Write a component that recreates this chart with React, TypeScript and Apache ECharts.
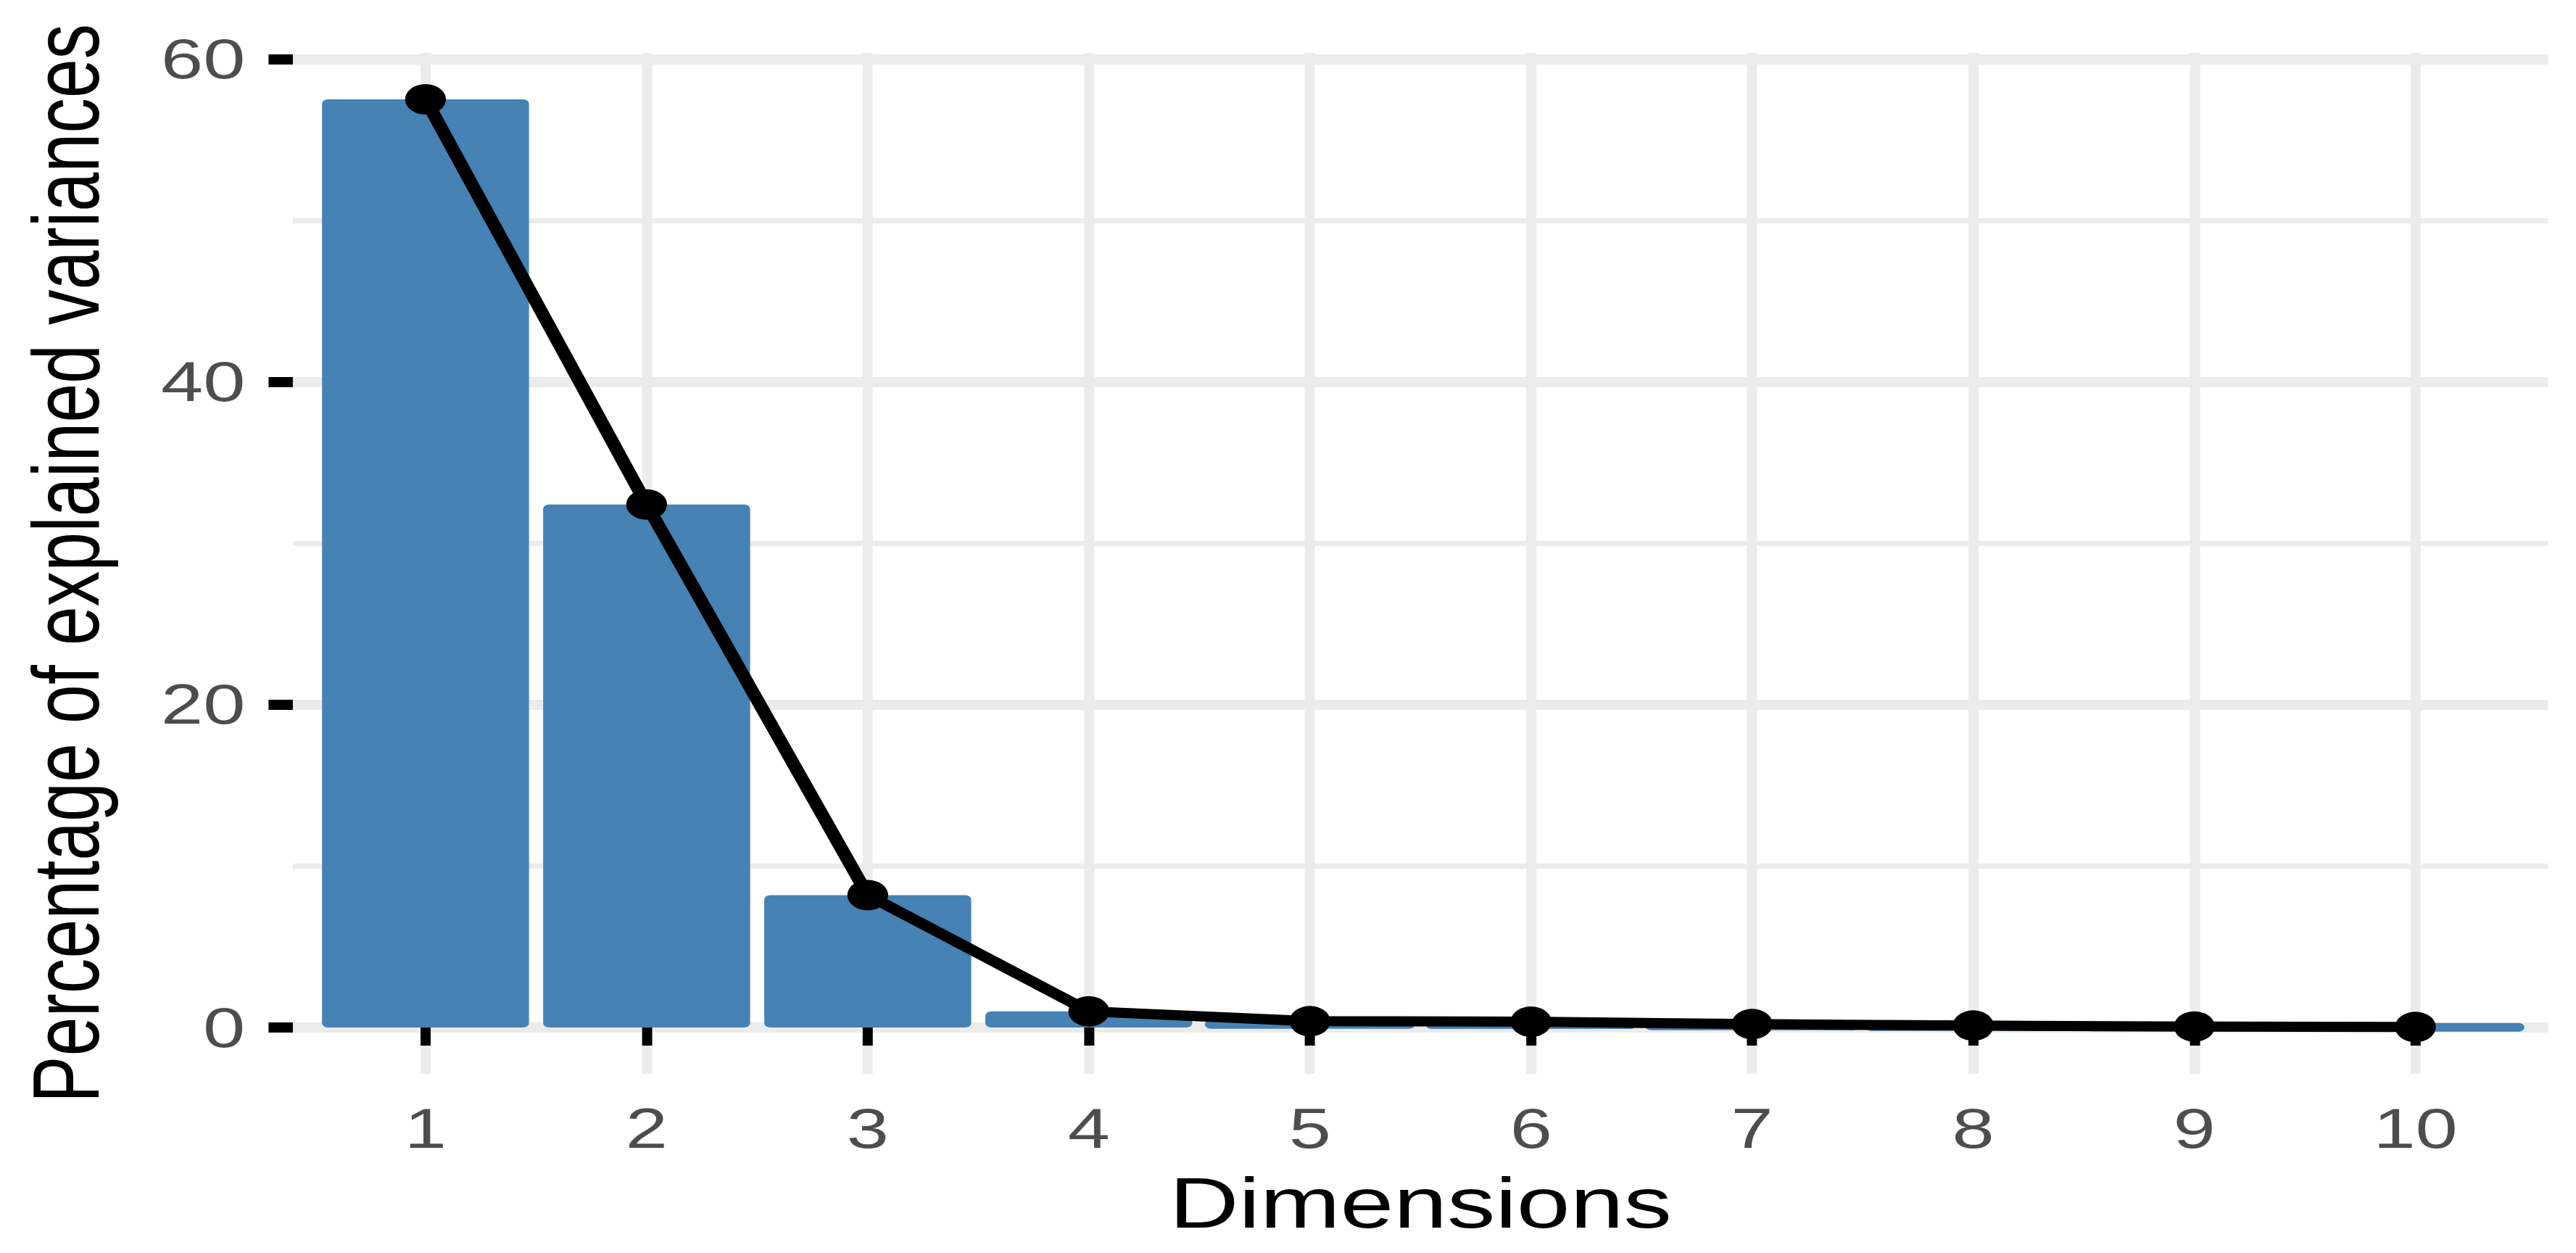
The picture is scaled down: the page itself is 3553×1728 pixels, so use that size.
import React, { useEffect, useRef } from "react";
import * as echarts from "echarts";

const dimensions = [1, 2, 3, 4, 5, 6, 7, 8, 9, 10];
const variances = [57.5, 32.4, 8.2, 1.0, 0.39, 0.36, 0.21, 0.12, 0.06, 0.03];
const yTicks = [0, 20, 40, 60];
const yMinorTicks = [10, 30, 50];
const xTitle = "Dimensions";
const yTitle = "Percentage of explained variances";

const STRETCH = 1.3402;
const FULL_W = 3553;
const FULL_H = 1728;
const INNER_W = Math.round(FULL_W / STRETCH);

export default function App() {
  const ref = useRef<HTMLDivElement>(null);
  useEffect(() => {
    if (!ref.current) return;
    const chart = echarts.init(ref.current, null, { renderer: "svg" });
    const font = "'Liberation Sans', Arial, Helvetica, sans-serif";
    const pts = dimensions.map((d, i) => [d, variances[i]]);
    chart.setOption({
      animation: false,
      backgroundColor: "#ffffff",
      textStyle: { fontFamily: font },
      grid: { left: 301.4, right: INNER_W - 2622.4, top: 73, bottom: FULL_H - 1481 },
      xAxis: {
        type: "value",
        min: 0.4,
        max: 10.6,
        name: xTitle,
        nameLocation: "middle",
        nameGap: 128,
        nameTextStyle: { fontSize: 99, color: "#000000", fontFamily: font },
        axisLine: { show: false },
        axisTick: {
          show: true,
          customValues: dimensions,
          length: 25,
          lineStyle: { color: "#000000", width: 10.4 },
        },
        axisLabel: {
          customValues: dimensions,
          margin: 36,
          fontSize: 78,
          color: "#4D4D4D",
          fontFamily: font,
        },
        splitLine: { show: true, lineStyle: { color: "#EBEBEB", width: 10.4 } },
      },
      yAxis: [
        {
          type: "value",
          min: -2.875,
          max: 60.375,
          name: yTitle,
          nameLocation: "middle",
          nameGap: 185,
          nameTextStyle: { fontSize: 97, color: "#000000", fontFamily: font },
          axisLine: { show: false },
          axisTick: {
            show: true,
            customValues: yTicks,
            length: 25,
            lineStyle: { color: "#000000", width: 14 },
          },
          axisLabel: {
            customValues: yTicks,
            margin: 49,
            fontSize: 78,
            color: "#4D4D4D",
            fontFamily: font,
          },
          splitLine: { show: true, lineStyle: { color: "#EBEBEB", width: 14 } },
        },
        {
          type: "value",
          min: -2.875,
          max: 60.375,
          position: "right",
          axisLine: { show: false },
          axisTick: { show: false, customValues: yMinorTicks },
          axisLabel: { show: false, customValues: yMinorTicks },
          splitLine: { show: true, lineStyle: { color: "#EBEBEB", width: 7 } },
        },
      ],
      series: [
        {
          type: "bar",
          data: pts,
          barWidth: 213,
          z: 2,
          itemStyle: {
            color: "#4682B4",
            borderColor: "#4682B4",
            borderWidth: 12,
            borderJoin: "round",
          },
        },
        {
          type: "line",
          data: pts,
          z: 3,
          symbol: "circle",
          symbolSize: 42,
          lineStyle: { color: "#000000", width: 14 },
          itemStyle: { color: "#000000" },
        },
      ],
    });
    return () => chart.dispose();
  }, []);
  return (
    <div
      style={{
        position: "fixed",
        left: 0,
        top: 0,
        width: FULL_W,
        height: FULL_H,
        overflow: "hidden",
        background: "#ffffff",
      }}
    >
      <div
        ref={ref}
        style={{
          width: INNER_W,
          height: FULL_H,
          transform: `scaleX(${STRETCH})`,
          transformOrigin: "0 0",
        }}
      />
    </div>
  );
}
